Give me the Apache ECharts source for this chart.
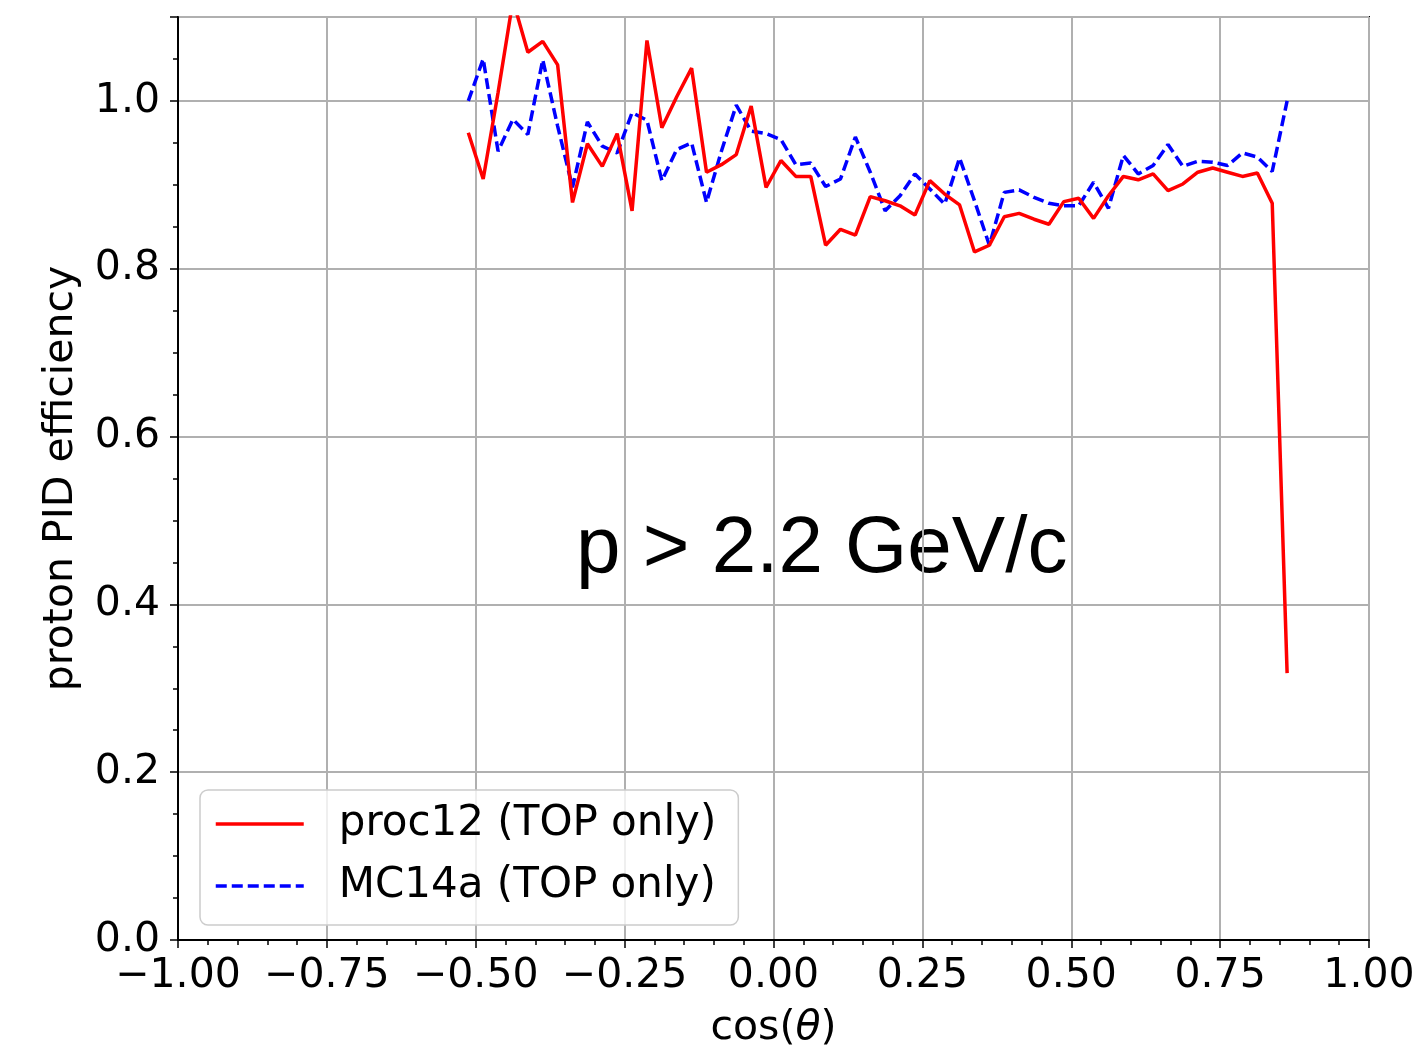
<!DOCTYPE html>
<html>
<head>
<meta charset="utf-8">
<script src="https://cdn.jsdelivr.net/npm/echarts@6/dist/echarts.min.js"></script>
<style>html,body{margin:0;padding:0;background:#fff;overflow:hidden}#c{width:1420px;height:1054px}</style>
</head>
<body>
<div id="c"></div>
<script>
const cosTheta = [-0.5125,-0.4875,-0.4625,-0.4375,-0.4125,-0.3875,-0.3625,-0.3375,-0.3125,-0.2875,
  -0.2625,-0.2375,-0.2125,-0.1875,-0.1625,-0.1375,-0.1125,-0.0875,-0.0625,-0.0375,
  -0.0125,0.0125,0.0375,0.0625,0.0875,0.1125,0.1375,0.1625,0.1875,0.2125,
  0.2375,0.2625,0.2875,0.3125,0.3375,0.3625,0.3875,0.4125,0.4375,0.4625,
  0.4875,0.5125,0.5375,0.5625,0.5875,0.6125,0.6375,0.6625,0.6875,0.7125,
  0.7375,0.7625,0.7875,0.8125,0.8375,0.8625];
const proc12 = [0.962,0.907,1.01,1.12,1.058,1.071,1.043,0.879,0.949,0.922,
  0.961,0.869,1.072,0.968,1.005,1.039,0.915,0.924,0.936,0.994,
  0.897,0.929,0.910,0.910,0.828,0.847,0.840,0.886,0.881,0.875,
  0.864,0.905,0.889,0.876,0.820,0.828,0.862,0.866,0.859,0.853,
  0.880,0.884,0.860,0.887,0.910,0.906,0.913,0.893,0.901,0.915,
  0.920,0.915,0.910,0.914,0.878,0.318];
const mc14a = [1.000,1.050,0.940,0.978,0.960,1.049,0.970,0.897,0.975,0.946,
  0.938,0.986,0.977,0.905,0.942,0.950,0.879,0.940,0.995,0.964,
  0.961,0.954,0.924,0.926,0.898,0.907,0.957,0.915,0.869,0.887,
  0.913,0.895,0.877,0.932,0.881,0.828,0.891,0.894,0.885,0.878,
  0.875,0.875,0.903,0.872,0.935,0.913,0.923,0.948,0.922,0.928,
  0.927,0.923,0.938,0.933,0.916,1.000];
const seriesNames = ['proc12 (TOP only)', 'MC14a (TOP only)'];
const annotation = 'p > 2.2 GeV/c';
const xName = 'cos({it|θ})';
const yName = 'proton PID efficiency';

const font = 'DejaVu Sans';
const chart = echarts.init(document.getElementById('c'), null, {renderer: 'canvas', width: 1420, height: 1054});
const pairs = ys => cosTheta.map((x, i) => [x, ys[i]]);
const fmtX = v => (v < 0 ? '\u2212' : '') + Math.abs(v).toFixed(2);

chart.setOption({
  backgroundColor: '#fff',
  animation: false,
  grid: {left: 178, right: 51, top: 17, bottom: 108, show: true, borderColor: '#000', borderWidth: 2, backgroundColor: 'transparent'},
  xAxis: {
    type: 'value', min: -1, max: 1, interval: 0.25,
    name: xName, nameLocation: 'middle', nameGap: 68,
    nameTextStyle: {fontFamily: font, fontSize: 41, color: '#000', rich: {it: {fontFamily: font, fontStyle: 'italic', fontSize: 41, color: '#000'}}},
    axisLine: {show: true, onZero: false, lineStyle: {color: '#000', width: 2}},
    axisTick: {show: true, length: 8, lineStyle: {color: '#000', width: 1.5}},
    minorTick: {show: true, splitNumber: 5, length: 5, lineStyle: {color: '#000', width: 1.5}},
    axisLabel: {fontFamily: font, fontSize: 41, color: '#000', margin: 16, formatter: fmtX, showMinLabel: true, showMaxLabel: true},
    splitLine: {show: true, lineStyle: {color: '#b0b0b0', width: 2}}
  },
  yAxis: [{
    type: 'value', min: 0, max: 1.1, interval: 0.2, position: 'left',
    name: yName, nameLocation: 'middle', nameGap: 96, nameRotate: 90,
    nameTextStyle: {fontFamily: font, fontSize: 41, color: '#000'},
    axisLine: {show: true, onZero: false, lineStyle: {color: '#000', width: 2}},
    axisTick: {show: true, length: 8, lineStyle: {color: '#000', width: 1.5}},
    axisLabel: {fontFamily: font, fontSize: 41, color: '#000', margin: 18,
      formatter: v => v > 1.05 ? '' : v.toFixed(1), showMinLabel: true, showMaxLabel: true},
    splitLine: {show: true, lineStyle: {color: '#b0b0b0', width: 2}}
  }, {
    type: 'value', min: 0, max: 1.1, interval: 0.05, position: 'left', offset: 0,
    axisLine: {show: false, onZero: false},
    axisTick: {show: true, length: 5, lineStyle: {color: '#000', width: 1.5}},
    axisLabel: {show: false},
    splitLine: {show: false}
  }],
  legend: {
    orient: 'vertical', left: 200, top: 790,
    padding: [10, 22, 15, 14], itemGap: 14, itemWidth: 88, itemHeight: 14,
    backgroundColor: 'rgba(255,255,255,0.8)', borderColor: '#cccccc', borderWidth: 1.5, borderRadius: 8,
    itemStyle: {opacity: 0},
    lineStyle: {width: 3.5},
    textStyle: {fontFamily: font, fontSize: 42, color: '#000', lineHeight: 48, padding: [0, 0, 0, 30]},
    data: seriesNames
  },
  graphic: [{
    type: 'text', z: -10, left: 576, top: 510,
    style: {text: annotation, fontFamily: 'Liberation Sans', fontSize: 80, fill: '#000'}
  }],
  series: [{
    name: seriesNames[0], type: 'line', data: pairs(proc12), showSymbol: false, symbol: 'none',
    lineStyle: {color: '#ff0000', width: 3.5}, itemStyle: {color: '#ff0000'}, clip: true, z: 3
  }, {
    name: seriesNames[1], type: 'line', data: pairs(mc14a), showSymbol: false, symbol: 'none',
    lineStyle: {color: '#0000ff', width: 3.5, type: [11, 5]}, itemStyle: {color: '#0000ff'}, clip: true, z: 2
  }]
});
</script>
</body>
</html>
